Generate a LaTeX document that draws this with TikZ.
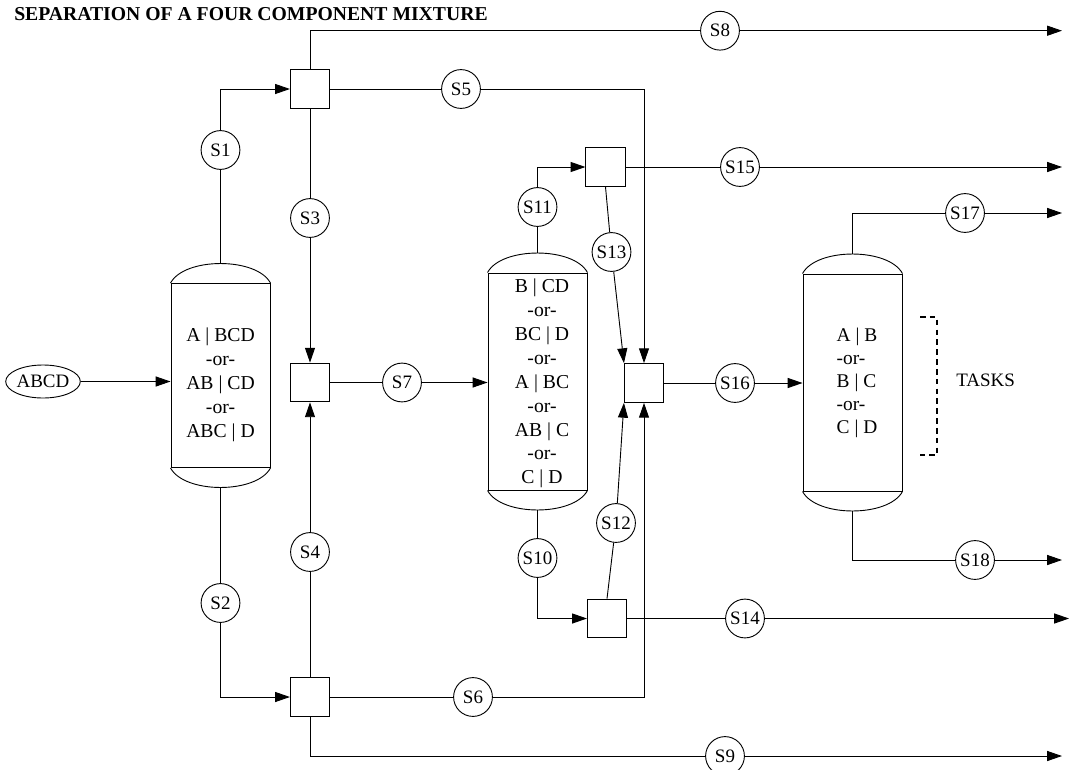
\documentclass[tikz,border=0pt]{standalone}
\usepackage{fontspec}
\setmainfont{Liberation Serif}
\usetikzlibrary{shapes, arrows.meta, positioning, calc}

\begin{document}
\begin{tikzpicture}[
        x=0.025cm, y=-0.025cm,
        stream/.style={circle, draw=black, line width=0.65pt, fill=white, minimum size=0.97cm, inner sep=0pt, font=\fontsize{13.5}{15}\selectfont},
        unit/.style={rectangle, draw=black, line width=0.65pt, fill=white, minimum width=0.98cm, minimum height=0.97cm, inner sep=0pt},
        column/.style={rectangle, draw=black, line width=0.65pt, minimum width=2.475cm, inner sep=0pt},
        task/.style={align=center, inner sep=0pt, font=\fontsize{14}{17}\selectfont},
        line/.style={line width=0.65pt, draw=black},
        arrow/.style={-{Triangle[length=3.7mm, width=2.5mm]}, line width=0.65pt, draw=black}
    ]
        \useasboundingbox (0,0) rectangle (1070,769);

        % Title
        \node [anchor=base west, inner sep=0pt, font=\fontsize{14}{17}\selectfont\bfseries] (title) at (14,20.5) {SEPARATION OF A FOUR COMPONENT MIXTURE};

        % Feed
        \node [ellipse, draw=black, line width=0.65pt, minimum width=1.65cm, minimum height=0.825cm, inner sep=0pt, font=\fontsize{13.5}{15}\selectfont] (feed) at (43,381.5) {ABCD};

        % Columns
        \node [column, minimum height=4.6cm] (col1) at (220.5,375.5) {};
        \node [column, minimum height=5.425cm] (col2) at (537.5,381.5) {};
        \node [column, minimum height=5.425cm] (col3) at (852.5,382.5) {};
        \draw [line] (col1.north west) .. controls +(14,-26) and +(-14,-26) .. (col1.north east);
        \draw [line] (col1.south west) .. controls +(14,26) and +(-14,26) .. (col1.south east);
        \draw [line] (col2.north west) .. controls +(14,-26) and +(-14,-26) .. (col2.north east);
        \draw [line] (col2.south west) .. controls +(14,26) and +(-14,26) .. (col2.south east);
        \draw [line] (col3.north west) .. controls +(14,-26) and +(-14,-26) .. (col3.north east);
        \draw [line] (col3.south west) .. controls +(14,26) and +(-14,26) .. (col3.south east);
        \coordinate (c1t) at ($(col1.north)+(0,-19.5)$);
        \coordinate (c1b) at ($(col1.south)+(0,19.5)$);
        \coordinate (c2t) at ($(col2.north)+(0,-19.5)$);
        \coordinate (c2b) at ($(col2.south)+(0,19.5)$);
        \coordinate (c3t) at ($(col3.north)+(0,-19.5)$);
        \coordinate (c3b) at ($(col3.south)+(0,19.5)$);

        % Tasks in the columns
        \node [task] (t1) at (220.5,385) {A | BCD\\-or-\\AB | CD\\-or-\\ABC | D};
        \node [task] (t2) at (542,383.5) {B | CD\\-or-\\BC | D\\-or-\\A | BC\\-or-\\AB | C\\-or-\\C | D};
        \node [task, align=left, font=\fontsize{13.8}{16.4}\selectfont] (t3) at (857,383) {A | B\\-or-\\B | C\\-or-\\C | D};
        \node [anchor=west, inner sep=0pt, font=\fontsize{13.5}{15}\selectfont] (tasks) at (956,380) {TASKS};
        \draw [line width=1.6pt, dash pattern=on 4pt off 3pt] (920,317) -| (937,455) -- (920,455);

        % Splitters and mixers
        \node [unit] (sp1) at (310,89) {};
        \node [unit] (mx1) at (310,382.5) {};
        \node [unit] (sp3) at (310,697) {};
        \node [unit] (sp5) at (605.5,167) {};
        \node [unit] (jn) at (644,383) {};
        \node [unit] (sp4) at (607,618.5) {};

        % Streams
        \node [stream] (s1) at (220.5,150) {S1};
        \node [stream] (s2) at (220.5,603) {S2};
        \node [stream] (s3) at (310,218) {S3};
        \node [stream] (s4) at (310,552) {S4};
        \node [stream] (s5) at (461,89) {S5};
        \node [stream] (s6) at (473,697) {S6};
        \node [stream] (s7) at (402,382.5) {S7};
        \node [stream] (s8) at (720,30.7) {S8};
        \node [stream] (s9) at (725,756) {S9};
        \node [stream] (s10) at (537.5,558) {S10};
        \node [stream] (s11) at (537.5,207) {S11};
        \node [stream] (s12) at (616,523) {S12};
        \node [stream] (s13) at (611.5,252) {S13};
        \node [stream] (s14) at (745,618.5) {S14};
        \node [stream] (s15) at (740,167) {S15};
        \node [stream] (s16) at (735,383) {S16};
        \node [stream] (s17) at (965,213) {S17};
        \node [stream] (s18) at (975,560) {S18};

        \coordinate (e8) at (1062,30.7);
        \coordinate (e9) at (1062,756);
        \coordinate (e14) at (1069,618.5);
        \coordinate (e15) at (1062,167);
        \coordinate (e17) at (1062,213);
        \coordinate (e18) at (1062,560);

        % First column
        \draw [arrow] (feed) -- (feed -| col1.west);
        \draw [line] (c1t) -- (s1);
        \draw [arrow] (s1) |- (sp1);
        \draw [line] (c1b) -- (s2);
        \draw [arrow] (s2) |- (sp3);

        % Top and bottom splitters
        \draw [line] (sp1) |- (s8);
        \draw [arrow] (s8) -- (e8);
        \draw [line] (sp1) -- (s5);
        \draw [arrow] (s5) -| (jn);
        \draw [line] (sp1) -- (s3);
        \draw [arrow] (s3) -- (mx1);
        \draw [line] (sp3) -- (s4);
        \draw [arrow] (s4) -- (mx1);
        \draw [line] (sp3) -- (s6);
        \draw [arrow] (s6) -| (jn);
        \draw [line] (sp3) |- (s9);
        \draw [arrow] (s9) -- (e9);
        \draw [line] (mx1) -- (s7);
        \draw [arrow] (s7) -- (s7 -| col2.west);

        % Second column
        \draw [line] (c2t) -- (s11);
        \draw [arrow] (s11) |- (sp5);
        \draw [line] (c2b) -- (s10);
        \draw [arrow] (s10) |- (sp4);
        \draw [line] (sp5) -- (s15);
        \draw [arrow] (s15) -- (e15);
        \draw [line] (sp5.south) -- (s13);
        \draw [arrow] (s13) -- (jn.north west);
        \draw [line] (sp4.north) -- (s12);
        \draw [arrow] (s12) -- (jn.south west);
        \draw [line] (sp4) -- (s14);
        \draw [arrow] (s14) -- (e14);
        \draw [line] (jn) -- (s16);
        \draw [arrow] (s16) -- (s16 -| col3.west);

        % Third column
        \draw [line] (c3t) |- (s17);
        \draw [arrow] (s17) -- (e17);
        \draw [line] (c3b) |- (s18);
        \draw [arrow] (s18) -- (e18);
    \end{tikzpicture}
\end{document}
